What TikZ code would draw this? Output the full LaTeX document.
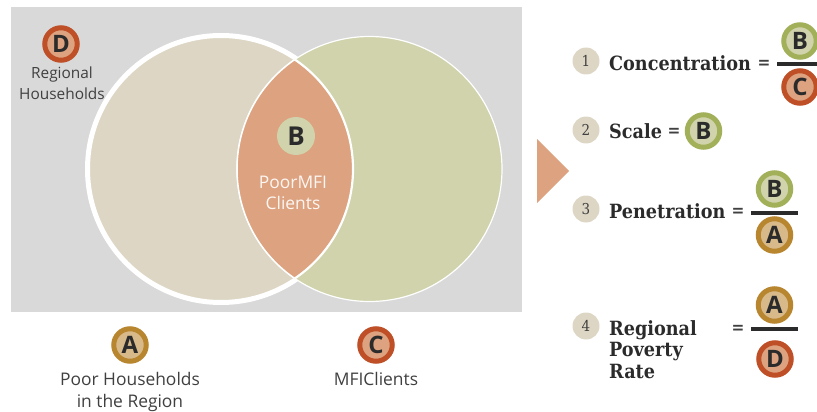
\documentclass[tikz,border=0pt]{standalone}
\usepackage{fontspec}
\setmainfont{Open Sans}
\newfontfamily\serifb{DejaVu Serif Condensed}[BoldFont={DejaVu Serif Condensed Bold}]
\definecolor{bggrey}{HTML}{D9D9D9}
\definecolor{sand}{HTML}{DDD6C5}
\definecolor{sage}{HTML}{D0D3AB}
\definecolor{salmon}{HTML}{DDA27F}
\definecolor{rust}{HTML}{BE4F27}
\definecolor{olive}{HTML}{A3B05A}
\definecolor{ochre}{HTML}{B8862F}
\definecolor{tan}{HTML}{D8BA8A}
\definecolor{ink}{HTML}{2B2B2B}
\definecolor{txt}{HTML}{404040}
\tikzset{
  x=1pt,y=-1pt,
  badge/.style={circle,minimum size=32.5pt,inner sep=0pt,line width=5pt,text=ink,font=\fontsize{24}{24}\selectfont\bfseries},
  badgeA/.style={badge,draw=ochre,fill=tan},
  badgeB/.style={badge,draw=olive,fill=sage},
  badgeC/.style={badge,draw=rust,fill=salmon},
  num/.style={circle,fill=sand,minimum size=27pt,inner sep=0pt,text=txt,font=\serifb\fontsize{15}{15}\selectfont},
  term/.style={anchor=west,text=ink,font=\serifb\bfseries\fontsize{19.6}{19.6}\selectfont,inner sep=0pt},
  eqsign/.style={text=txt,font=\serifb\bfseries\fontsize{17}{17}\selectfont,inner sep=0pt},
  label/.style={text=txt,align=center,inner sep=0pt,font=\fontsize{17.4}{21.8}\selectfont},
  bar/.style={line width=4pt,draw=ink}
}
\begin{document}
\begin{tikzpicture}
\useasboundingbox (0,0) rectangle (817,412);
\fill[bggrey] (11,7) rectangle (522,312);
\fill[sand] (221,169) circle (132);
\draw[white,line width=5pt] (221,169) circle (133.5);
\fill[sage] (369.5,169) circle (132.5);
\draw[white,line width=1.2pt] (369.5,169) circle (132.5);
\begin{scope}
  \clip (221,169) circle (132);
  \fill[salmon] (369.5,169) circle (132.5);
  \draw[white,line width=1.5pt] (369.5,169) circle (132.5);
\end{scope}
\begin{scope}
  \clip (369.5,169) circle (132.5);
  \draw[white,line width=2.2pt] (221,169) circle (132);
\end{scope}
% left labels
\node[badgeC] (d) at (61,44) {D};
\node[label,anchor=north,font=\fontsize{15.4}{21}\selectfont] (dl) at (62,67) {Regional\\Households};
\node[circle,fill=sage,minimum size=38pt,inner sep=0pt,text=ink,font=\fontsize{26}{26}\selectfont\bfseries] (b) at (296,136) {B};
\node[label,text=white!90!salmon,anchor=north] (bl) at (293,175.5) {PoorMFI\\Clients};
\node[badgeA] (a) at (130,345) {A};
\node[label,anchor=north] (al) at (130,372.5) {Poor Households\\in the Region};
\node[badgeC] (c) at (376,345) {C};
\node[label,anchor=north] (cl) at (376,372.5) {MFIClients};
% arrow
\fill[salmon] (537,139) -- (569,171) -- (537,203) -- cycle;
% row 1
\node[num] (n1) at (586,61) {1};
\node[term] (t1) at (609,63) {Concentration};
\node[eqsign] (e1) at (764,64) {=};
\node[badgeB] (b1) at (800,41) {B};
\draw[bar] (777,64) -- (817,64);
\node[badgeC] (c1) at (800,87) {C};
% row 2
\node[num] (n2) at (586,130) {2};
\node[term] (t2) at (609,131) {Scale};
\node[eqsign] (e2) at (674,132) {=};
\node[badgeB] (b2) at (703.5,131) {B};
% row 3
\node[num] (n3) at (586,209) {3};
\node[term] (t3) at (609,211) {Penetration};
\node[eqsign] (e3) at (738,212) {=};
\node[badgeB] (b3) at (774.5,189) {B};
\draw[bar] (751,213) -- (798,213);
\node[badgeA] (a3) at (774.5,235) {A};
% row 4
\node[num] (n4) at (586,326) {4};
\node[term,anchor=north west,align=left,font=\serifb\bfseries\fontsize{19.6}{21.8}\selectfont] (t4) at (609,320) {Regional\\Poverty\\Rate};
\node[eqsign] (e4) at (738,329) {=};
\node[badgeA] (a4) at (774.5,305) {A};
\draw[bar] (751,329) -- (798,329);
\node[badgeC] (d4) at (775,359) {D};
\end{tikzpicture}
\end{document}
